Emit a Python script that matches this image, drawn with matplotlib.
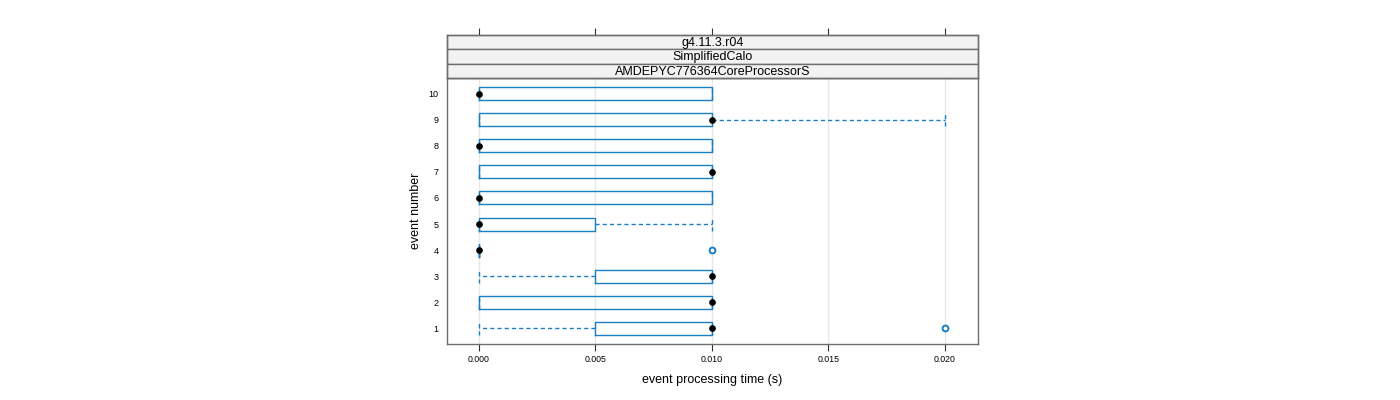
import matplotlib
matplotlib.use('Agg')
import matplotlib.pyplot as plt
from matplotlib.patches import Rectangle

plt.rcParams['font.family'] = ['Liberation Sans', 'DejaVu Sans']

events = [1, 2, 3, 4, 5, 6, 7, 8, 9, 10]
whislo = [0.0, 0.0, 0.0, 0.0, 0.0, 0.0, 0.0, 0.0, 0.0, 0.0]
q1 = [0.005, 0.0, 0.005, 0.0, 0.0, 0.0, 0.0, 0.0, 0.0, 0.0]
med = [0.01, 0.01, 0.01, 0.0, 0.0, 0.0, 0.01, 0.0, 0.01, 0.0]
q3 = [0.01, 0.01, 0.01, 0.0, 0.005, 0.01, 0.01, 0.01, 0.01, 0.01]
whishi = [0.01, 0.01, 0.01, 0.0, 0.01, 0.01, 0.01, 0.01, 0.02, 0.01]
fliers = [[0.02], [], [], [0.01], [], [], [], [], [], []]
strip_labels = ['g4.11.3.r04', 'SimplifiedCalo', 'AMDEPYC776364CoreProcessorS']
xticks = [0.000, 0.005, 0.010, 0.015, 0.020]

BLUE = '#1a7fc2'
FRAME = '#6e6e6e'

W, H = 1400, 400
fig = plt.figure(figsize=(W / 100, H / 100), dpi=100)

px_l, px_r, px_b, px_t = 447, 978, 344, 78
ax = fig.add_axes([px_l / W, 1 - px_b / H, (px_r - px_l) / W, (px_b - px_t) / H])

xlim = (-0.00137, 0.02142)
ax.set_xlim(*xlim)
ax.set_ylim(0.4, 10.6)

for x in xticks:
    ax.axvline(x, color='#e8e8e8', lw=1, zorder=0)

stats = []
for i in range(len(events)):
    stats.append(dict(whislo=whislo[i], q1=q1[i], med=med[i], q3=q3[i],
                      whishi=whishi[i], fliers=fliers[i]))

ax.bxp(stats, positions=events, orientation='horizontal', widths=0.5,
       capwidths=0.5, showfliers=True, manage_ticks=False,
       boxprops=dict(color=BLUE, lw=1),
       whiskerprops=dict(color=BLUE, lw=1, linestyle=(0, (3, 2.2))),
       capprops=dict(color=BLUE, lw=1, linestyle=(0, (3, 2.2))),
       medianprops=dict(linestyle='none'),
       flierprops=dict(marker='o', markerfacecolor='white', markeredgecolor=BLUE,
                       markersize=4.2, markeredgewidth=1.4))
ax.plot(med, events, 'o', color='black', markersize=3.8, zorder=5)

ax.set_xticks(xticks)
ax.set_xticklabels(['%.3f' % x for x in xticks], fontsize=6.3)
ax.set_yticks(events)
ax.set_yticklabels([str(e) for e in events], fontsize=6.5)
ax.tick_params(axis='x', direction='out', length=5, width=0.8, color='#333333', pad=3)
ax.tick_params(axis='y', length=0, pad=6)
for s in ax.spines.values():
    s.set_color(FRAME)
    s.set_linewidth(1)

ax.set_xlabel('event processing time (s)', fontsize=9, labelpad=7)
ax.set_ylabel('event number', fontsize=9, labelpad=5)

# strips
st_t = 35
sax = fig.add_axes([px_l / W, 1 - px_t / H, (px_r - px_l) / W, (px_t - st_t) / H])
sax.set_xlim(*xlim)
sax.set_ylim(0, 3)
for j, lab in enumerate(strip_labels):
    y0 = 2 - j
    sax.add_patch(Rectangle((xlim[0], y0), xlim[1] - xlim[0], 1, facecolor='#f2f2f2',
                            edgecolor=FRAME, lw=1, clip_on=False))
    sax.text((xlim[0] + xlim[1]) / 2, y0 + 0.45, lab, ha='center', va='center', fontsize=9)
sax.set_yticks([])
sax.set_xticks(xticks)
sax.xaxis.set_ticks_position('top')
sax.tick_params(axis='x', direction='out', length=5, width=0.8, color='#333333',
                labeltop=False, labelbottom=False)
for s in sax.spines.values():
    s.set_color(FRAME)
    s.set_linewidth(1)

fig.savefig('out.png', dpi=100)
